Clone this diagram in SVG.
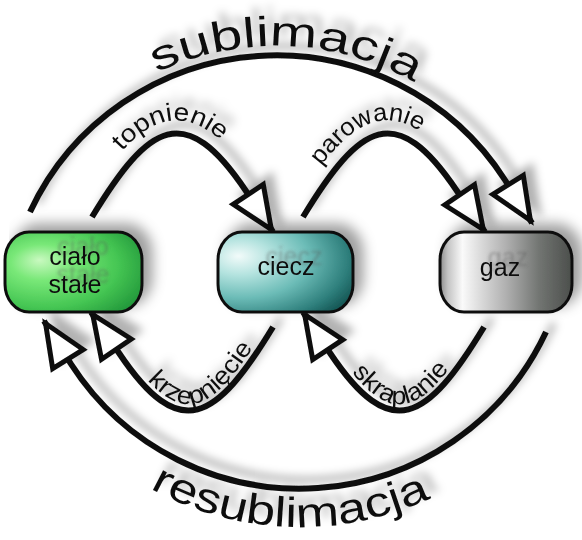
<svg xmlns="http://www.w3.org/2000/svg" width="582" height="540" viewBox="0 0 582 540">
<defs>
<style>
.ln{fill:none;stroke:#111;stroke-width:6;marker-end:url(#ah)}
.lbl{font-family:"Liberation Sans",Arial,sans-serif;fill:#111}
.big{font-size:42px}
.sm{font-size:25px}
.box{stroke:#111;stroke-width:3}
.nt{font-family:"Liberation Sans",Arial,sans-serif;font-size:25px;fill:#111;text-anchor:middle}
</style>
<filter id="sh" filterUnits="userSpaceOnUse" x="0" y="0" width="582" height="540">
<feGaussianBlur in="SourceAlpha" stdDeviation="4.2"/>
<feOffset dx="8" dy="-9" result="o"/>
<feFlood flood-color="#000" flood-opacity="0.3"/>
<feComposite in2="o" operator="in"/>
<feMerge><feMergeNode/><feMergeNode in="SourceGraphic"/></feMerge>
</filter>
<filter id="shb" filterUnits="userSpaceOnUse" x="0" y="0" width="582" height="540">
<feGaussianBlur in="SourceAlpha" stdDeviation="6.5"/>
<feOffset dx="9" dy="-7" result="o"/>
<feFlood flood-color="#000" flood-opacity="0.38"/>
<feComposite in2="o" operator="in"/>
<feMerge><feMergeNode/><feMergeNode in="SourceGraphic"/></feMerge>
</filter>
<filter id="tsh" filterUnits="userSpaceOnUse" x="0" y="0" width="582" height="540">
<feGaussianBlur in="SourceAlpha" stdDeviation="1.5"/>
<feOffset dx="8" dy="-10" result="o"/>
<feFlood flood-color="#555" flood-opacity="0.42"/>
<feComposite in2="o" operator="in"/>
<feMerge><feMergeNode/><feMergeNode in="SourceGraphic"/></feMerge>
</filter>
<radialGradient id="gG" cx="0.32" cy="0.45" r="0.75" fx="0.25" fy="0.35">
<stop offset="0" stop-color="#c9f9c0"/>
<stop offset="0.3" stop-color="#79e878"/>
<stop offset="0.7" stop-color="#45c653"/>
<stop offset="1" stop-color="#249a3c"/>
</radialGradient>
<radialGradient id="gT" cx="0.2" cy="0.35" r="0.9" fx="0.15" fy="0.3">
<stop offset="0" stop-color="#f2fbfa"/>
<stop offset="0.25" stop-color="#b4e3df"/>
<stop offset="0.55" stop-color="#6cbcb7"/>
<stop offset="0.85" stop-color="#2f807d"/>
<stop offset="1" stop-color="#175a58"/>
</radialGradient>
<linearGradient id="gS" x1="0" y1="0" x2="1" y2="0">
<stop offset="0" stop-color="#8c8c8c"/>
<stop offset="0.06" stop-color="#c4c4c4"/>
<stop offset="0.17" stop-color="#fafafa"/>
<stop offset="0.3" stop-color="#dcdcdc"/>
<stop offset="0.5" stop-color="#b0b0b0"/>
<stop offset="0.75" stop-color="#727572"/>
<stop offset="1" stop-color="#4b4e4b"/>
</linearGradient>
<marker id="ah" markerUnits="userSpaceOnUse" markerWidth="80" markerHeight="80" refX="0" refY="0" orient="auto" overflow="visible">
<path d="M-45,-18 L-3,0 L-45,18 Z" fill="#fff" stroke="#111" stroke-width="5" stroke-miterlimit="10"/>
</marker>
<path id="p-sub" d="M-4,326 A280,280 0 0 1 556,326"/>
<path id="p-res" d="M-9,218 A309,309 0 0 0 609,218"/>
<path id="p-top" d="M82,210 C139,109 190,84 257,184"/>
<path id="p-par" d="M293,210 C350,109 401,84 468,184"/>
<path id="p-krz" d="M124,350 C183,436 213,414 268,324"/>
<path id="p-skr" d="M335,350 C394,436 424,414 479,324"/>
</defs>

<g id="connectors" filter="url(#sh)">
<path class="ln" d="M30,212 A272,272 0 0 1 505,180 L532,223"/>
<path class="ln" d="M92,217 C149,123 185,100 246,191 L273,232"/>
<path class="ln" d="M303,217 C360,123 396,100 457,191 L485,232"/>
<g transform="rotate(180 288 272)">
<path class="ln" d="M30,212 A272,272 0 0 1 505,180 L532,223"/>
<path class="ln" d="M92,217 C149,123 185,100 246,191 L273,232"/>
<path class="ln" d="M303,217 C360,123 396,100 457,191 L485,232"/>
</g>
</g>

<g id="labels" class="lbl" filter="url(#sh)">
<text class="big" text-anchor="middle"><textPath href="#p-sub" startOffset="51.2%" textLength="268" lengthAdjust="spacingAndGlyphs">sublimacja</textPath></text>
<text class="big" text-anchor="middle"><textPath href="#p-res" startOffset="48.9%" textLength="292" lengthAdjust="spacingAndGlyphs">resublimacja</textPath></text>
<text class="sm" text-anchor="middle"><textPath href="#p-top" startOffset="53%" textLength="114" lengthAdjust="spacingAndGlyphs">topnienie</textPath></text>
<text class="sm" text-anchor="middle"><textPath href="#p-par" startOffset="46%" textLength="118" lengthAdjust="spacingAndGlyphs">parowanie</textPath></text>
<text class="sm" text-anchor="middle"><textPath href="#p-krz" startOffset="52.4%" textLength="138" lengthAdjust="spacingAndGlyphs">krzepnięcie</textPath></text>
<text class="sm" text-anchor="middle"><textPath href="#p-skr" startOffset="43.7%" textLength="122" lengthAdjust="spacingAndGlyphs">skraplanie</textPath></text>
</g>

<g id="n-solid" filter="url(#shb)">
<rect class="box" x="5" y="232" width="137" height="80" rx="24" ry="28" fill="url(#gG)"/>
<text class="nt" filter="url(#tsh)"><tspan x="75" y="265">ciało</tspan><tspan x="75" y="293">stałe</tspan></text>
</g>
<g id="n-liquid" filter="url(#shb)">
<rect class="box" x="218" y="232" width="135" height="80" rx="24" ry="28" fill="url(#gT)"/>
<text class="nt" filter="url(#tsh)" x="286" y="275">ciecz</text>
</g>
<g id="n-gas" filter="url(#shb)">
<rect class="box" x="440" y="232" width="132" height="80" rx="24" ry="28" fill="url(#gS)"/>
<text class="nt" filter="url(#tsh)" x="500" y="276">gaz</text>
</g>
</svg>
